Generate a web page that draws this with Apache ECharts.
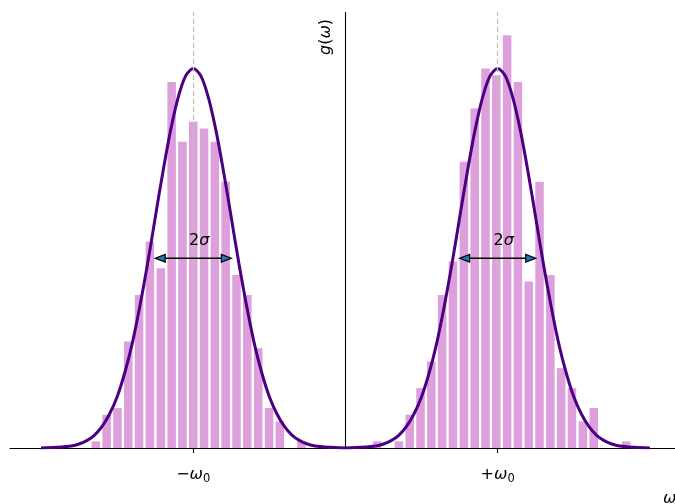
<!DOCTYPE html>
<html>
<head>
<meta charset="utf-8">
<script src="https://cdn.jsdelivr.net/npm/echarts@6/dist/echarts.min.js"></script>
<style>
html,body{margin:0;padding:0;background:#fff;}
#chart{width:675px;height:504px;}
</style>
</head>
<body>
<div id="chart"></div>
<script>
// Histogram bin centres (in units of omega0) and counts
var binX = [-1.640,-1.569,-1.498,-1.427,-1.356,-1.285,-1.213,-1.142,-1.071,-1.000,
            -0.929,-0.858,-0.787,-0.716,-0.645,-0.573,-0.502,-0.431,-0.360,-0.289,
            0.209,0.280,0.351,0.422,0.493,0.564,0.635,0.706,0.778,0.849,0.920,0.991,
            1.062,1.133,1.204,1.275,1.346,1.417,1.488,1.560,1.631,1.702,1.773,1.844];
var binCount = [1,5,6,16,23,31,27,55,46,49,48,46,40,26,23,15,6,4,0,1,
                1,0,1,5,9,13,23,28,43,51,57,56,62,55,25,40,26,12,9,4,6,0,0,1];

// Fitted curve g(omega) (same units as counts)
var curveX = [-2.0,-1.9,-1.8,-1.75,-1.7,-1.65,-1.6,-1.55,-1.5,-1.45,-1.4,-1.35,-1.3,-1.25,-1.2,-1.15,-1.1,-1.05,
              -1.0,-0.95,-0.9,-0.85,-0.8,-0.75,-0.7,-0.65,-0.6,-0.55,-0.5,-0.45,-0.4,-0.35,-0.3,-0.25,-0.2,-0.1,
              0.0,0.1,0.2,0.25,0.3,0.35,0.4,0.45,0.5,0.55,0.6,0.65,0.7,0.75,0.8,0.85,0.9,0.95,
              1.0,1.05,1.1,1.15,1.2,1.25,1.3,1.35,1.4,1.45,1.5,1.55,1.6,1.65,1.7,1.75,1.8,1.9,2.0];
var curveY = [0,0.1,0.3,0.6,1.1,1.9,3.2,5.1,7.7,11.3,15.8,21.4,27.7,34.6,41.4,47.6,52.6,55.9,
              57.0,55.9,52.6,47.6,41.4,34.6,27.7,21.4,15.8,11.3,7.7,5.1,3.2,1.9,1.1,0.6,0.3,0.1,
              0,0.1,0.3,0.6,1.1,1.9,3.2,5.1,7.7,11.3,15.8,21.4,27.7,34.6,41.4,47.6,52.6,55.9,
              57.0,55.9,52.6,47.6,41.4,34.6,27.7,21.4,15.8,11.3,7.7,5.1,3.2,1.9,1.1,0.6,0.3,0.1,0];

// Peak positions, tick labels, 2-sigma arrows
var peakX = [-1, 1];
var tickSigns = ['\u2212', '+'];
var arrowStart = [-1.25, 0.75];
var arrowEnd = [-0.75, 1.25];
var arrowY = 28.5;
var arrowLabel = '2\u03c3';

var FONT = 'DejaVu Sans';
var chart = echarts.init(document.getElementById('chart'), null, {renderer: 'canvas'});

var barData = binX.map(function (x, i) { return [x, binCount[i]]; });
var curveData = curveX.map(function (x, i) { return [x, curveY[i]]; });
var arrowData = arrowStart.map(function (s, i) { return [s, arrowEnd[i], arrowY]; });

var option = {
  animation: false,
  backgroundColor: '#ffffff',
  grid: {left: 10, top: 12, width: 665, height: 436, containLabel: false},
  xAxis: {
    type: 'value', min: -2.204, max: 2.165,
    axisLine: {show: true, onZero: false, lineStyle: {color: '#000', width: 1.1}},
    axisTick: {show: true, customValues: peakX, length: 5, lineStyle: {color: '#000', width: 1.1}},
    axisLabel: {
      show: true, customValues: peakX, margin: 17,
      fontFamily: FONT, fontSize: 16, color: '#000',
      formatter: function (v) {
        var s = v < 0 ? tickSigns[0] : tickSigns[1];
        return '{n|' + s + '}{i|\u03c9}{s|0}';
      },
      rich: {
        n: {fontFamily: FONT, fontSize: 16, color: '#000', lineHeight: 20, verticalAlign: 'middle'},
        i: {fontFamily: FONT, fontSize: 16, fontStyle: 'italic', color: '#000', lineHeight: 20, verticalAlign: 'middle'},
        s: {fontFamily: FONT, fontSize: 11.5, color: '#000', lineHeight: 11, verticalAlign: 'bottom'}
      }
    },
    splitLine: {show: false}
  },
  yAxis: {
    type: 'value', min: 0, max: 65.5,
    axisLine: {show: false}, axisTick: {show: false}, axisLabel: {show: false},
    splitLine: {show: false}
  },
  series: [
    {
      type: 'bar', data: barData, barWidth: 8.5, z: 2,
      itemStyle: {color: '#dda0dd'}, silent: true
    },
    {
      type: 'line', data: [], z: 3, silent: true,
      markLine: {
        silent: true, symbol: ['none', 'none'], label: {show: false},
        data: [
          {xAxis: peakX[0], lineStyle: {color: '#c0c0c0', type: [5, 3], width: 1.2}},
          {xAxis: peakX[1], lineStyle: {color: '#c0c0c0', type: [5, 3], width: 1.2}},
          {xAxis: 0, lineStyle: {color: '#000', type: 'solid', width: 1.1}}
        ]
      }
    },
    {
      type: 'line', data: curveData, z: 4, smooth: 0.3, showSymbol: false, silent: true,
      lineStyle: {color: '#4b0082', width: 3}
    },
    {
      type: 'custom', data: arrowData, z: 5, silent: true,
      renderItem: function (params, api) {
        var p1 = api.coord([api.value(0), api.value(2)]);
        var p2 = api.coord([api.value(1), api.value(2)]);
        var hl = 10, hw = 3.8;
        return {
          type: 'group',
          children: [
            {type: 'line', shape: {x1: p1[0] + hl - 1, y1: p1[1], x2: p2[0] - hl + 1, y2: p2[1]},
             style: {stroke: '#000', lineWidth: 1.5}},
            {type: 'polygon', shape: {points: [[p1[0], p1[1]], [p1[0] + hl, p1[1] - hw], [p1[0] + hl, p1[1] + hw]]},
             style: {fill: '#1f77b4', stroke: '#000', lineWidth: 1.2}},
            {type: 'polygon', shape: {points: [[p2[0], p2[1]], [p2[0] - hl, p2[1] - hw], [p2[0] - hl, p2[1] + hw]]},
             style: {fill: '#1f77b4', stroke: '#000', lineWidth: 1.2}},
            {type: 'text', x: (p1[0] + p2[0]) / 2 + 6, y: p1[1] - 9,
             style: {text: '2{i|\u03c3}', fill: '#000', fontFamily: FONT, fontSize: 16,
                     align: 'center', verticalAlign: 'bottom',
                     rich: {i: {fontFamily: FONT, fontSize: 16, fontStyle: 'italic', fill: '#000'}}}}
          ]
        };
      }
    }
  ],
  graphic: [
    {type: 'text', x: 326, y: 37, rotation: Math.PI / 2, z: 10,
     style: {text: '{i|g}({i|\u03c9})', fill: '#000', fontFamily: FONT, fontSize: 16,
             align: 'center', verticalAlign: 'middle',
             rich: {i: {fontFamily: FONT, fontSize: 16, fontStyle: 'italic', fill: '#000'}}}},
    {type: 'text', x: 663, y: 499, z: 10,
     style: {text: '\u03c9', fill: '#000', fontFamily: FONT, fontSize: 16, fontStyle: 'italic',
             align: 'left', verticalAlign: 'middle'}}
  ]
};
chart.setOption(option);
</script>
</body>
</html>
